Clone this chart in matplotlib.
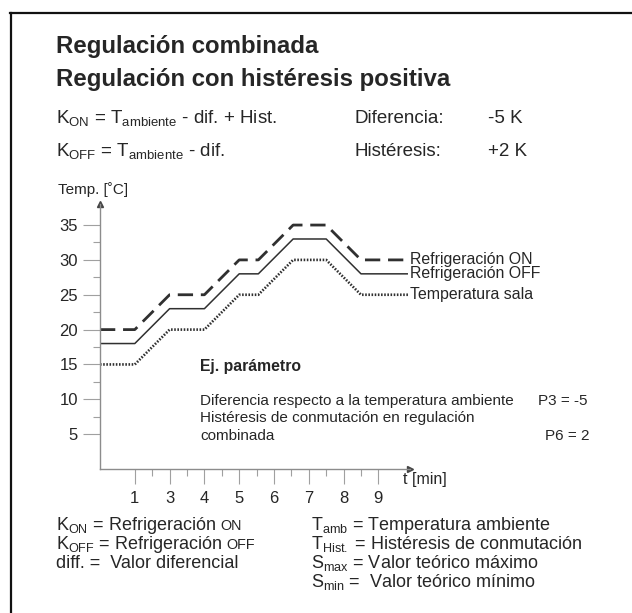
import matplotlib
matplotlib.use("Agg")
import matplotlib.pyplot as plt
from matplotlib.lines import Line2D

# ---- data -------------------------------------------------------------
# break points of the three curves on the time axis (axis units) and their temperatures
t_pts = [0, 1, 2, 3, 4, 4.55, 5.55, 6.5, 7.5]
t_end = [8.75, 8.85, 8.88]          # where each curve stops before its label
ref_on = [20, 20, 25, 25, 30, 30, 35, 35, 30, 30]
ref_off = [18, 18, 23, 23, 28, 28, 33, 33, 28, 28]
temp_sala = [15, 15, 20, 20, 25, 25, 30, 30, 25, 25]
series_labels = ["Refrigeración ON", "Refrigeración OFF", "Temperatura sala"]

y_major = [5, 10, 15, 20, 25, 30, 35]
y_minor = [7.5, 12.5, 17.5, 22.5, 27.5, 32.5]
x_major = [1, 2, 3, 4, 5, 6, 7, 8]
x_labels = ["1", "3", "4", "5", "6", "7", "8", "9"]
x_minor = [1.5, 2.5, 3.5, 4.5, 5.5, 6.5, 7.5]

# ---- style ------------------------------------------------------------
W, H, DPI = 632, 613, 100
TXT = "#262626"
AX = "#8c8c8c"
plt.rcParams["font.family"] = ["Liberation Sans", "DejaVu Sans"]
plt.rcParams["mathtext.fontset"] = "custom"
plt.rcParams["mathtext.rm"] = "Liberation Sans"
plt.rcParams["mathtext.it"] = "Liberation Sans:italic"
plt.rcParams["mathtext.bf"] = "Liberation Sans:bold"

fig = plt.figure(figsize=(W / DPI, H / DPI), dpi=DPI)
fig.patch.set_facecolor("white")
renderer = fig.canvas.get_renderer()


def fx(px):
    return px / W


def fy(py):
    return 1 - py / H


def put(x, y, s, size=13.5, weight="normal", **kw):
    return fig.text(fx(x), fy(y), s, fontsize=size, fontweight=weight,
                    color=TXT, va="baseline", ha="left", **kw)


# frame (left and top edges)
fig.add_artist(Line2D([fx(11), fx(11)], [fy(13), fy(H + 2)], color="#111111", lw=1.6))
fig.add_artist(Line2D([fx(10), fx(W + 2)], [fy(13), fy(13)], color="#111111", lw=1.6))

# ---- headings -----------------------------------------------------------
put(56, 53, "Regulación combinada", size=17.3, weight="bold")
put(56, 86, "Regulación con histéresis positiva", size=17.3, weight="bold")
put(56, 123, r"K$_{\rm ON}$ = T$_{\rm ambiente}$ - dif. + Hist.", size=13.5)
put(56, 156, r"K$_{\rm OFF}$ = T$_{\rm ambiente}$ - dif.", size=13.5)
put(354, 123, "Diferencia:", size=13.5)
put(488, 123, "-5 K", size=13.5)
put(354, 156, "Histéresis:", size=13.5)
put(488, 156, "+2 K", size=13.5)

# ---- chart ------------------------------------------------------------
x0, y0 = 100, 469          # pixel position of the origin
ux, uy = 34.8, 6.97        # pixels per axis unit
xmax, ymax = 8.92, 38.0
ax = fig.add_axes([fx(x0), fy(y0), xmax * ux / W, ymax * uy / H])
ax.set_xlim(0, xmax)
ax.set_ylim(0, ymax)
ax.patch.set_alpha(0)
for side in ("top", "right"):
    ax.spines[side].set_visible(False)
for side in ("left", "bottom"):
    ax.spines[side].set_color(AX)
    ax.spines[side].set_linewidth(1.0)
ax.plot(1, 0, ">", color="#444444", ms=4, transform=ax.get_yaxis_transform(), clip_on=False)
ax.plot(0, 1, "^", color="#444444", ms=4, transform=ax.get_xaxis_transform(), clip_on=False)

ax.set_yticks(y_major)
ax.set_yticks(y_minor, minor=True)
ax.set_xticks(x_major, x_labels)
ax.set_xticks(x_minor, minor=True)
ax.tick_params(axis="y", which="major", direction="out", length=12, width=0.8,
               color="#a0a0a0", labelsize=12, labelcolor=TXT, pad=4)
ax.tick_params(axis="y", which="minor", direction="out", length=5, width=0.8, color="#a0a0a0")
ax.tick_params(axis="x", which="major", direction="out", length=11, width=0.8,
               color="#a0a0a0", labelsize=12, labelcolor=TXT, pad=5)
ax.tick_params(axis="x", which="minor", direction="out", length=5, width=0.8, color="#a0a0a0")

styles = [
    dict(color="#303030", lw=2.0, ls=(0, (5.5, 2.8))),
    dict(color="#303030", lw=1.1, ls="-"),
    dict(color="#303030", lw=1.9, ls=(0, (0.6, 0.6))),
]
for vals, end, lab, st in zip([ref_on, ref_off, temp_sala], t_end, series_labels, styles):
    ax.plot(t_pts + [end], vals, clip_on=False, solid_capstyle="butt",
            dash_capstyle="butt", **st)
    ax.text(8.9, vals[-1], lab, fontsize=11.4, color=TXT, va="center", ha="left",
            clip_on=False)

put(58, 194, "Temp. [˚C]", size=11)
put(403, 484, "t [min]", size=11.5)

# ---- parameter example ----------------------------------------------------
put(200, 371, "Ej. parámetro", size=11.3, weight="bold")
put(200, 405, "Diferencia respecto a la temperatura ambiente", size=11)
put(200, 422, "Histéresis de conmutación en regulación", size=11)
put(200, 440, "combinada", size=11)
put(538, 405, "P3 = -5", size=11)
put(545, 440, "P6 = 2", size=11)

# ---- abbreviations ----------------------------------------------------------
def put_smallcaps(x, y, head, tail, size=13):
    t = put(x, y, head, size=size)
    bb = t.get_window_extent(renderer)
    put(x + bb.width + 4, y, tail, size=size * 0.8)


put_smallcaps(56, 530, r"K$_{\rm ON}$ = Refrigeración", "ON")
put_smallcaps(56, 549, r"K$_{\rm OFF}$ = Refrigeración", "OFF")
put(56, 568, "diff. =  Valor diferencial", size=13)
put(311, 530, r"T$_{\rm amb}$ = Temperatura ambiente", size=13)
put(311, 549, r"T$_{\rm Hist.}$ = Histéresis de conmutación", size=13)
put(311, 568, r"S$_{\rm max}$ = Valor teórico máximo", size=13)
put(311, 587, r"S$_{\rm min}$ =  Valor teórico mínimo", size=13)

fig.savefig("out.png", dpi=DPI, facecolor="white")
